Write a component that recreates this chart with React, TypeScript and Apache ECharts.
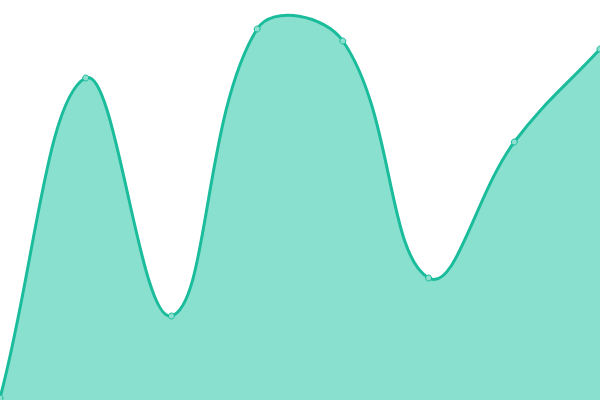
import React, { useEffect, useRef } from "react";
import * as echarts from "echarts";

const categories = ["A", "B", "C", "D", "E", "F", "G", "H"];
const values = [2, 322, 84, 371, 359, 122, 258, 351];
const yMin = 0;
const yMax = 400;

const LINE = "#1abc9c";
const AREA = "#8ae0cf";
const TENSION = 0.4;

function controlPoints(pts: number[][], box: number[]) {
  const [x0, y0, x1, y1] = box;
  const clamp = (p: number[]) => [
    Math.min(Math.max(p[0], x0), x1),
    Math.min(Math.max(p[1], y0), y1),
  ];
  const cps: number[][] = [];
  const n = pts.length;
  for (let i = 0; i < n; i++) {
    const p = pts[i];
    const prev = pts[i - 1] || p;
    const next = pts[i + 1] || p;
    const d01 = Math.hypot(p[0] - prev[0], p[1] - prev[1]);
    const d12 = Math.hypot(next[0] - p[0], next[1] - p[1]);
    let s01 = d01 / (d01 + d12);
    let s12 = d12 / (d01 + d12);
    if (isNaN(s01)) s01 = 0;
    if (isNaN(s12)) s12 = 0;
    const fa = TENSION * s01;
    const fb = TENSION * s12;
    const vx = next[0] - prev[0];
    const vy = next[1] - prev[1];
    cps.push(
      clamp([p[0] - fa * vx, p[1] - fa * vy]),
      clamp([p[0] + fb * vx, p[1] + fb * vy])
    );
  }
  return cps;
}

function curvePath(pts: number[][], box: number[]) {
  const cps = controlPoints(pts, box);
  let d = `M${pts[0][0]},${pts[0][1]}`;
  for (let i = 1; i < pts.length; i++) {
    const c1 = cps[(i - 1) * 2 + 1];
    const c2 = cps[i * 2];
    d += ` C${c1[0]},${c1[1]} ${c2[0]},${c2[1]} ${pts[i][0]},${pts[i][1]}`;
  }
  return d;
}

export default function App() {
  const ref = useRef<HTMLDivElement>(null);
  useEffect(() => {
    document.body.style.margin = "0";
    const chart = echarts.init(ref.current!, null, { renderer: "svg" });
    chart.setOption({
      animation: false,
      grid: { left: 0, right: 0, top: 0, bottom: 0 },
      xAxis: {
        type: "category",
        data: categories,
        boundaryGap: false,
        show: false,
      },
      yAxis: { type: "value", min: yMin, max: yMax, show: false },
      series: [
        {
          type: "custom",
          clip: false,
          data: values.map((v, i) => [i, v]),
          encode: { x: 0, y: 1 },
          renderItem: (params: any, api: any) => {
            if (params.dataIndex !== 0) return null;
            const pts = values.map((v, i) => api.coord([i, v]));
            const bl = api.coord([0, yMin]);
            const tr = api.coord([values.length - 1, yMax]);
            const box = [bl[0], tr[1], tr[0], bl[1]];
            const base = bl[1];
            const line = curvePath(pts, box);
            const last = pts[pts.length - 1];
            const area = `${line} L${last[0]},${base} L${pts[0][0]},${base} Z`;
            const children: any[] = [
              {
                type: "path",
                shape: { pathData: area },
                style: { fill: AREA, stroke: "none" },
              },
              {
                type: "path",
                shape: { pathData: line },
                style: { fill: "none", stroke: LINE, lineWidth: 3 },
              },
            ];
            pts.forEach((p) => {
              children.push({
                type: "circle",
                shape: { cx: p[0], cy: p[1], r: 3 },
                style: { fill: "#8de0cf", stroke: LINE, lineWidth: 1 },
              });
            });
            return { type: "group", children };
          },
        },
      ],
    });
    return () => chart.dispose();
  }, []);
  return <div ref={ref} style={{ width: 600, height: 400 }} />;
}
